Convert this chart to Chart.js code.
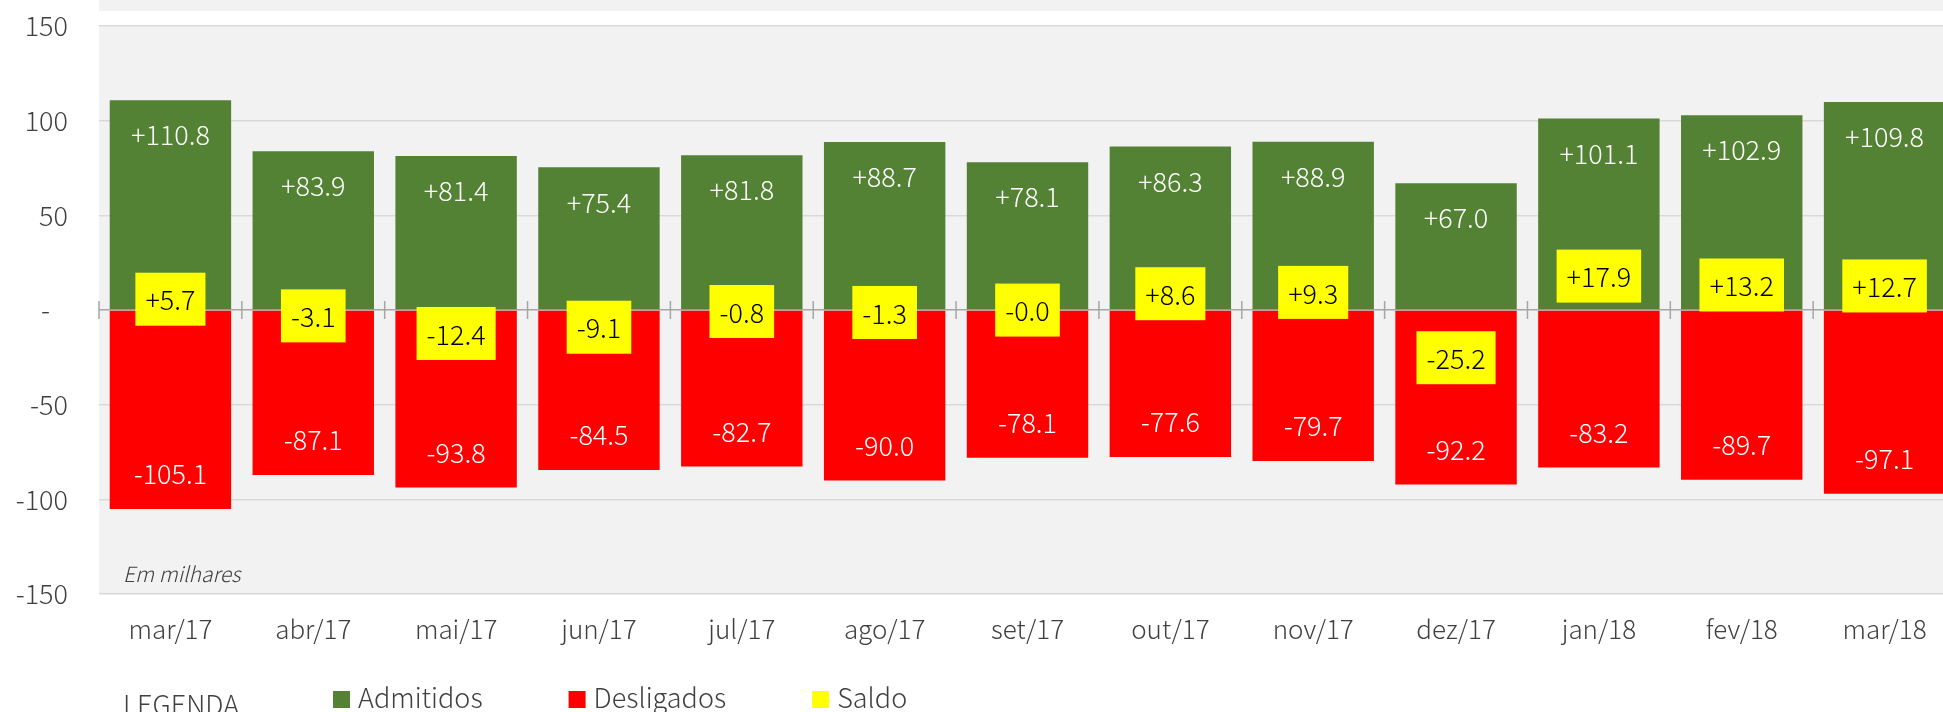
<!DOCTYPE html>
<html>
<head>
<meta charset="utf-8">
<script src="https://cdn.jsdelivr.net/npm/chart.js@4"></script>
<style>
  html, body { margin: 0; padding: 0; background: #fff; overflow: hidden; }
  #wrap { width: 1956px; height: 712px; position: relative; }
</style>
</head>
<body>
<div id="wrap"><canvas id="myChart"></canvas></div>
<script>
const meses = ['mar/17', 'abr/17', 'mai/17', 'jun/17', 'jul/17', 'ago/17', 'set/17',
    'out/17', 'nov/17', 'dez/17', 'jan/18', 'fev/18', 'mar/18'];
const admitidos = [110.8, 83.9, 81.4, 75.4, 81.8, 88.7, 78.1, 86.3, 88.9, 67.0, 101.1, 102.9, 109.8];
const desligados = [-105.1, -87.1, -93.8, -84.5, -82.7, -90.0, -78.1, -77.6, -79.7, -92.2, -83.2, -89.7, -97.1];
const saldo = [5.7, -3.1, -12.4, -9.1, -0.8, -1.3, -0.04, 8.6, 9.3, -25.2, 17.9, 13.2, 12.7];
const yTicks = [-150, -100, -50, 0, 50, 100, 150];

const FONT = "'Noto Sans CJK JP', 'Noto Sans', sans-serif";
const TEXT = '#404040';

function fmt(v) {
    return (v < 0 ? '-' : '+') + Math.abs(v).toFixed(1);
}

// grey plot background + little tick marks on the zero line
const fundo = {
    id: 'fundo',
    beforeDraw(chart) {
        const { ctx, chartArea: a } = chart;
        ctx.save();
        ctx.fillStyle = '#f2f2f2';
        ctx.fillRect(a.left, a.top, a.right - a.left, a.bottom - a.top);
        ctx.fillRect(a.left, 0, chart.width - a.left, 11);
        ctx.restore();
    },
    beforeDatasetsDraw(chart) {
        const { ctx, scales: { x, y } } = chart;
        const y0 = y.getPixelForValue(0);
        const step = x.getPixelForValue(1) - x.getPixelForValue(0);
        ctx.save();
        ctx.strokeStyle = '#a6a6a6';
        ctx.lineWidth = 1.5;
        ctx.beginPath();
        for (let i = 0; i <= meses.length; i++) {
            const px = x.getPixelForValue(i) - step / 2;
            ctx.moveTo(px, y0 - 9);
            ctx.lineTo(px, y0 + 9);
        }
        ctx.stroke();
        ctx.restore();
    }
};

const rotulos = {
    id: 'rotulos',
    afterDatasetsDraw(chart) {
        const ctx = chart.ctx;
        ctx.save();
        ctx.font = '300 27px ' + FONT;
        ctx.textAlign = 'center';
        ctx.textBaseline = 'middle';
        [0, 1].forEach(di => {
            const vals = chart.data.datasets[di].data;
            chart.getDatasetMeta(di).data.forEach((bar, i) => {
                ctx.fillStyle = '#ffffff';
                ctx.fillText(fmt(vals[i]), bar.x, vals[i] >= 0 ? bar.y + 35 : bar.y - 35);
            });
        });
        chart.getDatasetMeta(2).data.forEach((pt, i) => {
            const t = fmt(saldo[i]);
            const w = ctx.measureText(t).width + 20;
            ctx.fillStyle = '#ffff00';
            ctx.fillRect(pt.x - w / 2, pt.y - 26.5, w, 53);
            ctx.fillStyle = '#000000';
            ctx.fillText(t, pt.x, pt.y + 1);
        });
        ctx.restore();
    }
};

const legenda = {
    id: 'legenda',
    afterDraw(chart) {
        const ctx = chart.ctx;
        const yc = chart.height - 13;
        ctx.save();
        ctx.font = '300 27px ' + FONT;
        ctx.textBaseline = 'middle';
        ctx.textAlign = 'left';
        ctx.fillStyle = TEXT;
        let px = chart.chartArea.left + 24;
        ctx.fillText('LEGENDA', px, yc + 6);
        px += ctx.measureText('LEGENDA').width + 94;
        chart.data.datasets.forEach(ds => {
            ctx.fillStyle = ds.backgroundColor;
            ctx.fillRect(px, yc - 8, 17, 17);
            ctx.fillStyle = TEXT;
            ctx.fillText(ds.label, px + 25, yc - 1);
            px += 25 + ctx.measureText(ds.label).width + 86;
        });
        ctx.font = 'italic 300 21px ' + FONT;
        ctx.fillText('Em milhares', chart.chartArea.left + 24, chart.chartArea.bottom - 20);
        ctx.restore();
    }
};

const ctx = document.getElementById('myChart').getContext('2d');

const myChart = new Chart(ctx, {
    type: 'bar',
    data: {
        labels: meses,
        datasets: [
            { label: 'Admitidos', data: admitidos, backgroundColor: '#548235', stack: 'fluxo', order: 2 },
            { label: 'Desligados', data: desligados, backgroundColor: '#ff0000', stack: 'fluxo', order: 2 },
            {
                label: 'Saldo', type: 'line', data: saldo, showLine: false, pointRadius: 0,
                backgroundColor: '#ffff00', borderColor: '#ffff00', stack: 'saldo', order: 1
            }
        ]
    },
    options: {
        responsive: true,
        maintainAspectRatio: false,
        animation: false,
        layout: { padding: { top: 26, bottom: 49, left: 0, right: 0 } },
        datasets: { bar: { categoryPercentage: 1, barPercentage: 0.85 } },
        plugins: { legend: { display: false }, tooltip: { enabled: false } },
        scales: {
            x: {
                stacked: true,
                grid: { display: false },
                border: { display: false },
                ticks: { color: TEXT, font: { family: FONT, size: 26, weight: 300 }, padding: 12 },
                afterFit(s) { s.height = 69; }
            },
            y: {
                stacked: true,
                min: -150,
                max: 150,
                afterBuildTicks(s) { s.ticks = yTicks.map(v => ({ value: v })); },
                grid: {
                    color: c => c.tick.value === 0 ? '#a6a6a6' : '#d9d9d9',
                    lineWidth: 1.5,
                    drawTicks: false
                },
                border: { display: false },
                ticks: {
                    color: TEXT, font: { family: FONT, size: 27, weight: 300 }, padding: 31,
                    callback: v => v === 0 ? '-   ' : v
                },
                afterFit(s) {
                    s.width = 99;
                    // tick padding is only wanted sideways
                    s.paddingTop = 16;
                    s.paddingBottom = 16;
                }
            }
        }
    },
    plugins: [fundo, rotulos, legenda]
});
</script>
</body>
</html>
